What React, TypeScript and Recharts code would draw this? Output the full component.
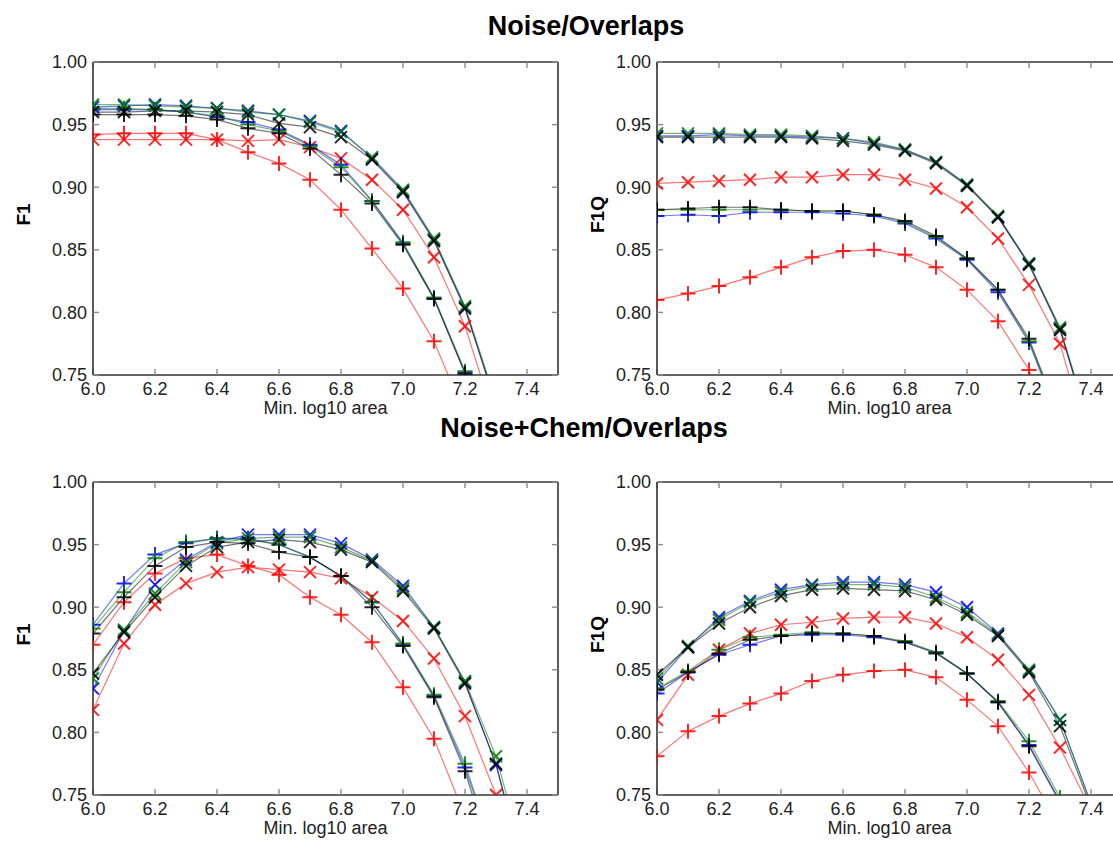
import React from 'react';
import { LineChart, Line, XAxis, YAxis } from 'recharts';

// Minimum log10 area thresholds (x values shared by every panel)
const minLogArea = [6.0, 6.1, 6.2, 6.3, 6.4, 6.5, 6.6, 6.7, 6.8, 6.9, 7.0, 7.1, 7.2, 7.3, 7.4];
const xTicks = [6.0, 6.2, 6.4, 6.6, 6.8, 7.0, 7.2, 7.4];
const yTicks = [0.75, 0.8, 0.85, 0.9, 0.95, 1.0];

// Noise/Overlaps — F1
const noiseF1BlueX = [0.964, 0.965, 0.966, 0.965, 0.963, 0.961, 0.958, 0.953, 0.945, 0.923, 0.897, 0.858, 0.804, 0.727, null];
const noiseF1GreenX = [0.966, 0.966, 0.965, 0.964, 0.963, 0.960, 0.958, 0.952, 0.944, 0.924, 0.898, 0.859, 0.805, 0.729, null];
const noiseF1BlackX = [0.960, 0.960, 0.961, 0.961, 0.960, 0.958, 0.951, 0.948, 0.940, 0.922, 0.896, 0.857, 0.803, 0.726, null];
const noiseF1BluePlus = [0.962, 0.962, 0.962, 0.960, 0.956, 0.952, 0.946, 0.934, 0.918, 0.889, 0.855, 0.811, 0.752, 0.680, null];
const noiseF1GreenPlus = [0.963, 0.963, 0.962, 0.960, 0.957, 0.950, 0.945, 0.933, 0.916, 0.889, 0.856, 0.812, 0.753, 0.681, null];
const noiseF1BlackPlus = [0.958, 0.958, 0.958, 0.957, 0.954, 0.947, 0.943, 0.931, 0.910, 0.887, 0.854, 0.811, 0.751, 0.679, null];
const noiseF1RedX = [0.938, 0.938, 0.938, 0.938, 0.938, 0.937, 0.938, 0.932, 0.923, 0.906, 0.882, 0.844, 0.789, 0.711, null];
const noiseF1RedPlus = [0.942, 0.943, 0.943, 0.943, 0.938, 0.928, 0.919, 0.906, 0.882, 0.851, 0.819, 0.777, 0.718, null, null];

// Noise/Overlaps — F1Q
const noiseF1QBlueX = [0.941, 0.941, 0.942, 0.941, 0.941, 0.940, 0.939, 0.935, 0.930, 0.920, 0.902, 0.876, 0.839, 0.787, 0.705];
const noiseF1QGreenX = [0.943, 0.943, 0.943, 0.942, 0.942, 0.941, 0.939, 0.936, 0.930, 0.920, 0.902, 0.877, 0.839, 0.788, 0.706];
const noiseF1QBlackX = [0.940, 0.940, 0.940, 0.940, 0.940, 0.939, 0.937, 0.934, 0.929, 0.919, 0.901, 0.876, 0.838, 0.786, 0.704];
const noiseF1QBluePlus = [0.877, 0.878, 0.877, 0.880, 0.880, 0.880, 0.879, 0.877, 0.871, 0.859, 0.842, 0.816, 0.776, 0.713, null];
const noiseF1QGreenPlus = [0.882, 0.882, 0.882, 0.882, 0.882, 0.881, 0.881, 0.878, 0.872, 0.860, 0.843, 0.818, 0.777, 0.714, null];
const noiseF1QBlackPlus = [0.882, 0.883, 0.884, 0.884, 0.882, 0.881, 0.881, 0.878, 0.873, 0.861, 0.843, 0.818, 0.779, 0.715, null];
const noiseF1QRedX = [0.903, 0.904, 0.905, 0.906, 0.908, 0.908, 0.910, 0.910, 0.906, 0.899, 0.884, 0.859, 0.822, 0.775, 0.689];
const noiseF1QRedPlus = [0.810, 0.815, 0.821, 0.828, 0.836, 0.844, 0.849, 0.850, 0.846, 0.836, 0.818, 0.793, 0.754, 0.690, null];

// Noise+Chem/Overlaps — F1
const chemF1BlueX = [0.835, 0.881, 0.918, 0.938, 0.952, 0.958, 0.958, 0.958, 0.951, 0.938, 0.917, 0.884, 0.840, 0.774, 0.680];
const chemF1GreenX = [0.843, 0.882, 0.911, 0.936, 0.951, 0.955, 0.956, 0.956, 0.948, 0.937, 0.915, 0.884, 0.841, 0.781, 0.690];
const chemF1BlackX = [0.847, 0.880, 0.908, 0.933, 0.948, 0.952, 0.954, 0.952, 0.946, 0.936, 0.913, 0.883, 0.839, 0.775, 0.680];
const chemF1BluePlus = [0.886, 0.919, 0.942, 0.951, 0.955, 0.955, 0.950, 0.940, 0.925, 0.904, 0.870, 0.829, 0.772, 0.700, null];
const chemF1GreenPlus = [0.883, 0.912, 0.939, 0.952, 0.955, 0.954, 0.950, 0.940, 0.925, 0.904, 0.871, 0.830, 0.775, 0.700, null];
const chemF1BlackPlus = [0.879, 0.908, 0.933, 0.948, 0.952, 0.951, 0.944, 0.940, 0.925, 0.900, 0.869, 0.828, 0.769, 0.690, null];
const chemF1RedX = [0.818, 0.871, 0.902, 0.919, 0.928, 0.932, 0.930, 0.928, 0.923, 0.908, 0.889, 0.859, 0.813, 0.750, 0.680];
const chemF1RedPlus = [0.870, 0.904, 0.927, 0.939, 0.942, 0.933, 0.926, 0.908, 0.894, 0.872, 0.836, 0.795, 0.733, null, null];

// Noise+Chem/Overlaps — F1Q
const chemF1QBlueX = [0.840, 0.868, 0.892, 0.905, 0.914, 0.918, 0.920, 0.920, 0.918, 0.912, 0.900, 0.879, 0.849, 0.810, 0.743];
const chemF1QGreenX = [0.843, 0.869, 0.890, 0.904, 0.912, 0.917, 0.918, 0.918, 0.916, 0.908, 0.896, 0.878, 0.850, 0.810, 0.743];
const chemF1QBlackX = [0.846, 0.868, 0.887, 0.900, 0.909, 0.914, 0.915, 0.914, 0.913, 0.906, 0.894, 0.877, 0.848, 0.805, 0.740];
const chemF1QBluePlus = [0.831, 0.848, 0.862, 0.870, 0.877, 0.878, 0.878, 0.876, 0.872, 0.864, 0.847, 0.824, 0.790, 0.745, null];
const chemF1QGreenPlus = [0.835, 0.849, 0.866, 0.876, 0.878, 0.880, 0.879, 0.877, 0.873, 0.864, 0.847, 0.825, 0.793, 0.748, null];
const chemF1QBlackPlus = [0.834, 0.848, 0.863, 0.874, 0.877, 0.879, 0.879, 0.877, 0.872, 0.863, 0.847, 0.824, 0.789, 0.744, null];
const chemF1QRedX = [0.810, 0.846, 0.866, 0.879, 0.886, 0.888, 0.891, 0.892, 0.892, 0.887, 0.876, 0.858, 0.830, 0.788, 0.738];
const chemF1QRedPlus = [0.781, 0.801, 0.813, 0.823, 0.831, 0.841, 0.846, 0.849, 0.850, 0.844, 0.826, 0.805, 0.768, 0.724, null];

type Marker = 'plus' | 'cross';
type SeriesDef = { key: string; color: string; marker: Marker; values: (number | null)[] };

const RED = '#ff0000';
const BLUE = '#0000ff';
const GREEN = '#008000';
const BLACK = '#000000';

const makeSeries = (
  redPlus: (number | null)[], redX: (number | null)[],
  bluePlus: (number | null)[], blueX: (number | null)[],
  greenPlus: (number | null)[], greenX: (number | null)[],
  blackPlus: (number | null)[], blackX: (number | null)[],
): SeriesDef[] => [
  { key: 'redPlus', color: RED, marker: 'plus', values: redPlus },
  { key: 'redX', color: RED, marker: 'cross', values: redX },
  { key: 'bluePlus', color: BLUE, marker: 'plus', values: bluePlus },
  { key: 'blueX', color: BLUE, marker: 'cross', values: blueX },
  { key: 'greenPlus', color: GREEN, marker: 'plus', values: greenPlus },
  { key: 'greenX', color: GREEN, marker: 'cross', values: greenX },
  { key: 'blackPlus', color: BLACK, marker: 'plus', values: blackPlus },
  { key: 'blackX', color: BLACK, marker: 'cross', values: blackX },
];

const FONT = '"Liberation Sans", Arial, Helvetica, sans-serif';

// Chart geometry: plot area sits at (93, 62) inside each chart, 465 x 313
const CHART_W = 588;
const CHART_H = 420;
const PLOT_LEFT = 93;
const PLOT_TOP = 62;
const PLOT_W = 465;
const PLOT_H = 313;

const buildRows = (series: SeriesDef[]) =>
  minLogArea.map((x, i) => {
    const row: Record<string, number | null> = { x };
    series.forEach((s) => {
      row[s.key] = s.values[i];
    });
    return row;
  });

const makeDot = (color: string, marker: Marker) => (props: any) => {
  const { cx, cy, index } = props;
  if (cx == null || cy == null || Number.isNaN(cx) || Number.isNaN(cy)) {
    return <g key={`m-${index}`} />;
  }
  const d =
    marker === 'plus'
      ? `M${cx - 7.5},${cy}H${cx + 7.5}M${cx},${cy - 7.5}V${cy + 7.5}`
      : `M${cx - 6},${cy - 6}L${cx + 6},${cy + 6}M${cx - 6},${cy + 6}L${cx + 6},${cy - 6}`;
  return (
    <path key={`m-${index}`} d={d} stroke={color} strokeWidth={2} strokeOpacity={0.85} fill="none" />
  );
};

const axisLine = { stroke: '#333', strokeWidth: 1.6 };
const tickLine = { stroke: '#8a8a8a', strokeWidth: 1.4 };
const tickText = { fill: '#222', fontSize: 18, fontFamily: FONT };

type PanelProps = { left: number; top: number; yLabel: string; yLabelX: number; series: SeriesDef[] };

function Panel({ left, top, yLabel, yLabelX, series }: PanelProps) {
  const rows = buildRows(series);
  const xLabel = () => (
    <text
      x={PLOT_LEFT + PLOT_W / 2}
      y={PLOT_TOP + PLOT_H + 39}
      textAnchor="middle"
      fontSize={18}
      fontFamily={FONT}
      fill="#222"
    >
      Min. log10 area
    </text>
  );
  const yTitle = () => {
    const cy = PLOT_TOP + PLOT_H / 2 - 4;
    return (
      <text
        x={yLabelX}
        y={cy}
        transform={`rotate(-90 ${yLabelX} ${cy})`}
        textAnchor="middle"
        fontSize={19}
        fontWeight="bold"
        fontFamily={FONT}
        fill="#000"
      >
        {yLabel}
      </text>
    );
  };
  return (
    <div style={{ position: 'absolute', left, top }}>
      <LineChart width={CHART_W} height={CHART_H} data={rows} margin={{ top: PLOT_TOP - 30, right: 0, bottom: 0, left: 0 }}>
        <XAxis
          xAxisId="bottom"
          dataKey="x"
          type="number"
          orientation="bottom"
          domain={[6, 7.5]}
          allowDataOverflow
          ticks={xTicks}
          interval={0}
          tickFormatter={(v: number) => v.toFixed(1)}
          height={CHART_H - PLOT_TOP - PLOT_H}
          tickSize={-6}
          tickMargin={13}
          axisLine={axisLine}
          tickLine={tickLine}
          tick={tickText}
          label={xLabel}
        />
        <XAxis
          xAxisId="top"
          dataKey="x"
          type="number"
          orientation="top"
          domain={[6, 7.5]}
          allowDataOverflow
          ticks={xTicks}
          interval={0}
          tickFormatter={() => ''}
          height={30}
          tickSize={-6}
          axisLine={axisLine}
          tickLine={tickLine}
        />
        <YAxis
          yAxisId="left"
          type="number"
          orientation="left"
          domain={[0.75, 1.0]}
          allowDataOverflow
          ticks={yTicks}
          interval={0}
          tickFormatter={(v: number) => v.toFixed(2)}
          width={PLOT_LEFT}
          tickSize={-6}
          tickMargin={12}
          axisLine={axisLine}
          tickLine={tickLine}
          tick={tickText}
          label={yTitle}
        />
        <YAxis
          yAxisId="right"
          type="number"
          orientation="right"
          domain={[0.75, 1.0]}
          allowDataOverflow
          ticks={yTicks}
          interval={0}
          tickFormatter={() => ''}
          width={CHART_W - PLOT_LEFT - PLOT_W}
          tickSize={-6}
          axisLine={axisLine}
          tickLine={tickLine}
        />
        {series.map((s) => (
          <Line
            key={s.key}
            xAxisId="bottom"
            yAxisId="left"
            type="linear"
            dataKey={s.key}
            stroke={s.color}
            strokeOpacity={0.55}
            strokeWidth={1.2}
            dot={makeDot(s.color, s.marker)}
            activeDot={false}
            connectNulls={false}
            isAnimationActive={false}
          />
        ))}
      </LineChart>
    </div>
  );
}

const noiseF1 = makeSeries(noiseF1RedPlus, noiseF1RedX, noiseF1BluePlus, noiseF1BlueX, noiseF1GreenPlus, noiseF1GreenX, noiseF1BlackPlus, noiseF1BlackX);
const noiseF1Q = makeSeries(noiseF1QRedPlus, noiseF1QRedX, noiseF1QBluePlus, noiseF1QBlueX, noiseF1QGreenPlus, noiseF1QGreenX, noiseF1QBlackPlus, noiseF1QBlackX);
const chemF1 = makeSeries(chemF1RedPlus, chemF1RedX, chemF1BluePlus, chemF1BlueX, chemF1GreenPlus, chemF1GreenX, chemF1BlackPlus, chemF1BlackX);
const chemF1Q = makeSeries(chemF1QRedPlus, chemF1QRedX, chemF1QBluePlus, chemF1QBlueX, chemF1QGreenPlus, chemF1QGreenX, chemF1QBlackPlus, chemF1QBlackX);

export default function App() {
  return (
    <div
      style={{
        position: 'fixed',
        left: 0,
        top: 0,
        width: 1113,
        height: 842,
        overflow: 'hidden',
        background: '#fff',
      }}
    >
      <Panel left={0} top={0} yLabel="F1" yLabelX={30} series={noiseF1} />
      <Panel left={564} top={0} yLabel="F1Q" yLabelX={40} series={noiseF1Q} />
      <Panel left={0} top={420} yLabel="F1" yLabelX={30} series={chemF1} />
      <Panel left={564} top={420} yLabel="F1Q" yLabelX={40} series={chemF1Q} />
      <svg
        width={1113}
        height={842}
        style={{ position: 'absolute', left: 0, top: 0, pointerEvents: 'none' }}
      >
        <text x={586} y={35} textAnchor="middle" fontSize={27} fontWeight="bold" fontFamily={FONT} fill="#000">
          Noise/Overlaps
        </text>
        <text x={584} y={437} textAnchor="middle" fontSize={27} fontWeight="bold" fontFamily={FONT} fill="#000">
          Noise+Chem/Overlaps
        </text>
      </svg>
    </div>
  );
}
